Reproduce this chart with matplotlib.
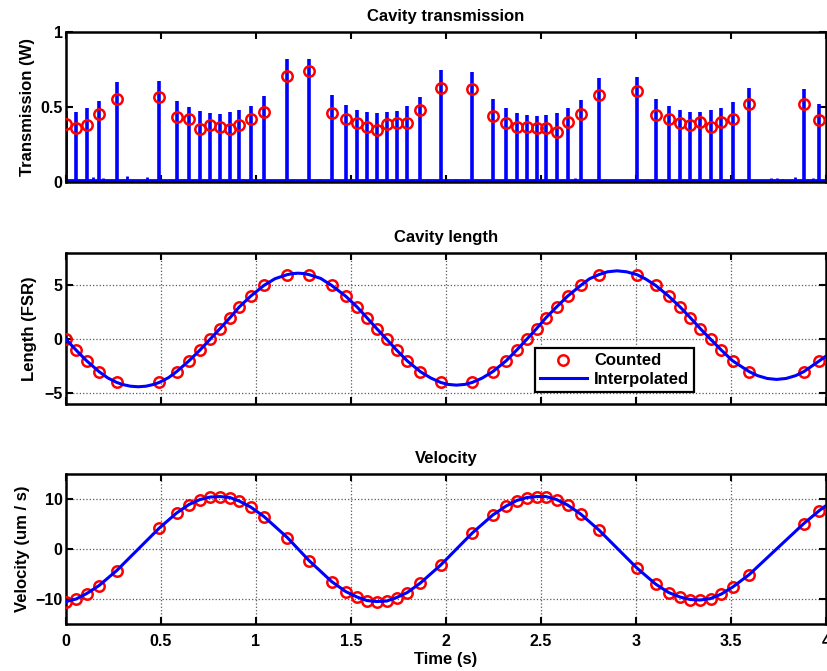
import matplotlib
matplotlib.use("Agg")
import matplotlib.pyplot as plt

# fringe times (s)
t_counted = [0.000, 0.053, 0.109, 0.174, 0.267, 0.491, 0.582, 0.647, 0.705, 0.758,
             0.811, 0.863, 0.912, 0.972, 1.042, 1.165, 1.279, 1.398, 1.472, 1.532,
             1.584, 1.635, 1.688, 1.740, 1.796, 1.865, 1.972, 2.138, 2.246, 2.316,
             2.372, 2.425, 2.477, 2.526, 2.582, 2.640, 2.709, 2.805, 3.005, 3.103,
             3.172, 3.232, 3.286, 3.338, 3.393, 3.449, 3.509, 3.596, 3.883, 3.965]

# spike tops and the circled values (W)
peak_height = [0.47, 0.469, 0.491, 0.54, 0.669, 0.673, 0.542, 0.498, 0.471, 0.458,
               0.453, 0.464, 0.48, 0.509, 0.573, 0.818, 0.818, 0.58, 0.513, 0.48,
               0.464, 0.458, 0.464, 0.476, 0.507, 0.569, 0.747, 0.736, 0.551, 0.491,
               0.462, 0.444, 0.438, 0.444, 0.458, 0.491, 0.547, 0.696, 0.70, 0.556,
               0.504, 0.48, 0.469, 0.464, 0.478, 0.496, 0.531, 0.629, 0.618, 0.52]
trans_counted = [0.384, 0.362, 0.38, 0.453, 0.555, 0.569, 0.436, 0.418, 0.351, 0.38,
                 0.369, 0.353, 0.38, 0.422, 0.469, 0.709, 0.74, 0.458, 0.42, 0.391,
                 0.364, 0.349, 0.384, 0.393, 0.391, 0.482, 0.627, 0.622, 0.44, 0.393,
                 0.369, 0.364, 0.358, 0.36, 0.336, 0.40, 0.451, 0.582, 0.604, 0.447,
                 0.422, 0.396, 0.38, 0.398, 0.367, 0.398, 0.422, 0.518, 0.518, 0.413]

# small background bumps in the transmission trace
noise_t = [0.144, 0.196, 0.319, 0.428, 0.62, 0.93, 1.33, 1.9, 2.05, 2.68,
           3.06, 3.71, 3.74, 3.77, 3.837, 3.93]
noise_h = [0.03, 0.025, 0.04, 0.035, 0.02, 0.02, 0.02, 0.02, 0.02, 0.025,
           0.02, 0.025, 0.025, 0.02, 0.03, 0.025]
baseline = 0.012

# counted length (FSR)
len_counted = [0, -1, -2, -3, -4, -4, -3, -2, -1, 0,
               1, 2, 3, 4, 5, 6, 6, 5, 4, 3,
               2, 1, 0, -1, -2, -3, -4, -4, -3, -2,
               -1, 0, 1, 2, 3, 4, 5, 6, 6, 5,
               4, 3, 2, 1, 0, -1, -2, -3, -3, -2]

# interpolated length curve
t_interp = [0.0, 0.053, 0.109, 0.174, 0.22, 0.267, 0.30, 0.34, 0.38, 0.42,
            0.46, 0.491, 0.54, 0.582, 0.647, 0.705, 0.758, 0.811, 0.863, 0.912,
            0.972, 1.042, 1.10, 1.165, 1.195, 1.222, 1.25, 1.279, 1.34, 1.398,
            1.472, 1.532, 1.584, 1.635, 1.688, 1.740, 1.796, 1.865, 1.92, 1.972,
            2.01, 2.055, 2.10, 2.138, 2.19, 2.246, 2.316, 2.372, 2.425, 2.477,
            2.526, 2.582, 2.640, 2.709, 2.755, 2.805, 2.85, 2.90, 2.95, 3.005,
            3.05, 3.103, 3.172, 3.232, 3.286, 3.338, 3.393, 3.449, 3.509, 3.596,
            3.64, 3.69, 3.74, 3.79, 3.84, 3.883, 3.965, 4.0]
len_interp = [0.0, -1, -2, -3, -3.58, -4, -4.2, -4.35, -4.4, -4.35,
              -4.19, -4, -3.55, -3, -2, -1, 0, 1, 2, 3,
              4, 5, 5.62, 6, 6.1, 6.13, 6.1, 6, 5.65, 5,
              4, 3, 2, 1, 0, -1, -2, -3, -3.59, -4,
              -4.18, -4.25, -4.18, -4, -3.6, -3, -2, -1, 0, 1,
              2, 3, 4, 5, 5.61, 6, 6.26, 6.35, 6.26, 6,
              5.6, 5, 4, 3, 2, 1, 0, -1, -2, -3,
              -3.37, -3.63, -3.72, -3.63, -3.37, -3, -2, -1.55]

# velocity at each counted fringe (um/s), plus the value at the end of the record
vel_counted = [-10.5, -10.0, -8.9, -7.3, -4.3, 4.2, 7.2, 8.9, 9.9, 10.4,
               10.5, 10.3, 9.6, 8.4, 6.5, 2.3, -2.3, -6.5, -8.5, -9.6,
               -10.3, -10.5, -10.4, -9.7, -8.7, -6.8, -3.2, 3.2, 6.8, 8.6,
               9.7, 10.3, 10.5, 10.5, 9.9, 8.8, 7.0, 3.8, -3.8, -7.0,
               -8.7, -9.6, -10.1, -10.2, -9.9, -9.0, -7.6, -5.1, 5.1, 7.7]
t_end = 4.0
vel_end = 8.7

x_ticks = [0, 0.5, 1, 1.5, 2, 2.5, 3, 3.5, 4]
x_tick_labels = ["0", "0.5", "1", "1.5", "2", "2.5", "3", "3.5", "4"]

plt.rcParams["font.family"] = ["Liberation Sans", "DejaVu Sans"]
plt.rcParams["font.weight"] = "bold"
plt.rcParams["font.size"] = 12
plt.rcParams["axes.titleweight"] = "bold"
plt.rcParams["axes.labelweight"] = "bold"

fig = plt.figure(figsize=(8.27, 6.71), dpi=100)
ax1 = fig.add_axes([0.0798, 0.7288, 0.919, 0.2235])
ax2 = fig.add_axes([0.0798, 0.3979, 0.919, 0.2250])
ax3 = fig.add_axes([0.0798, 0.0700, 0.919, 0.2235])


def matlab_style(ax):
    for s in ax.spines.values():
        s.set_linewidth(1.8)
    ax.tick_params(direction="in", top=True, right=True, length=5, width=1.5,
                   labelsize=11.5)
    ax.tick_params(axis="x", pad=7)
    ax.tick_params(axis="y", pad=2.5)
    ax.set_xlim(0, 4)
    ax.set_xticks(x_ticks)


# 1. cavity transmission
ax1.axhline(baseline, color="blue", lw=2.0, zorder=2)
ax1.vlines(noise_t, 0, noise_h, color="blue", lw=2.0, zorder=2)
ax1.vlines(t_counted, 0, peak_height, color="blue", lw=2.6, zorder=2)
ax1.plot(t_counted, trans_counted, "o", mfc="none", mec="red", ms=7.5, mew=1.8,
         zorder=3)
matlab_style(ax1)
ax1.set_ylim(0, 1)
ax1.set_yticks([0, 0.5, 1])
ax1.set_yticklabels(["0", "0.5", "1"])
ax1.set_xticklabels([])
ax1.set_ylabel("Transmission (W)", labelpad=4)
ax1.set_title("Cavity transmission", fontsize=12, pad=8)

# 2. cavity length
ax2.plot(t_counted, len_counted, "o", mfc="none", mec="red", ms=7.5, mew=1.8,
         label="Counted", zorder=3)
ax2.plot(t_interp, len_interp, "-", color="blue", lw=2.2, label="Interpolated",
         zorder=4)
matlab_style(ax2)
ax2.set_ylim(-6, 8)
ax2.set_yticks([-5, 0, 5])
ax2.set_xticklabels([])
ax2.grid(True, ls=":", color="0.35", lw=0.9)
ax2.set_ylabel("Length (FSR)", labelpad=5)
ax2.set_title("Cavity length", fontsize=12, pad=8)
leg = ax2.legend(loc="lower left", bbox_to_anchor=(0.617, 0.079), borderaxespad=0,
                 fancybox=False, edgecolor="black", framealpha=1,
                 handlelength=2.8, fontsize=12, borderpad=0.3,
                 labelspacing=0.22, handletextpad=0.45)
leg.get_frame().set_linewidth(1.6)

# 3. velocity
ax3.plot(t_counted, vel_counted, "o", mfc="none", mec="red", ms=7.5, mew=1.8,
         zorder=3)
ax3.plot(t_counted + [t_end], vel_counted + [vel_end], "-", color="blue", lw=2.2,
         zorder=4)
matlab_style(ax3)
ax3.set_ylim(-15, 15)
ax3.set_yticks([-10, 0, 10])
ax3.set_xticklabels(x_tick_labels)
ax3.grid(True, ls=":", color="0.35", lw=0.9)
ax3.set_ylabel("Velocity (um / s)", labelpad=4)
ax3.set_xlabel("Time (s)", labelpad=2)
ax3.set_title("Velocity", fontsize=12, pad=8)

fig.savefig("out.png", dpi=100)
